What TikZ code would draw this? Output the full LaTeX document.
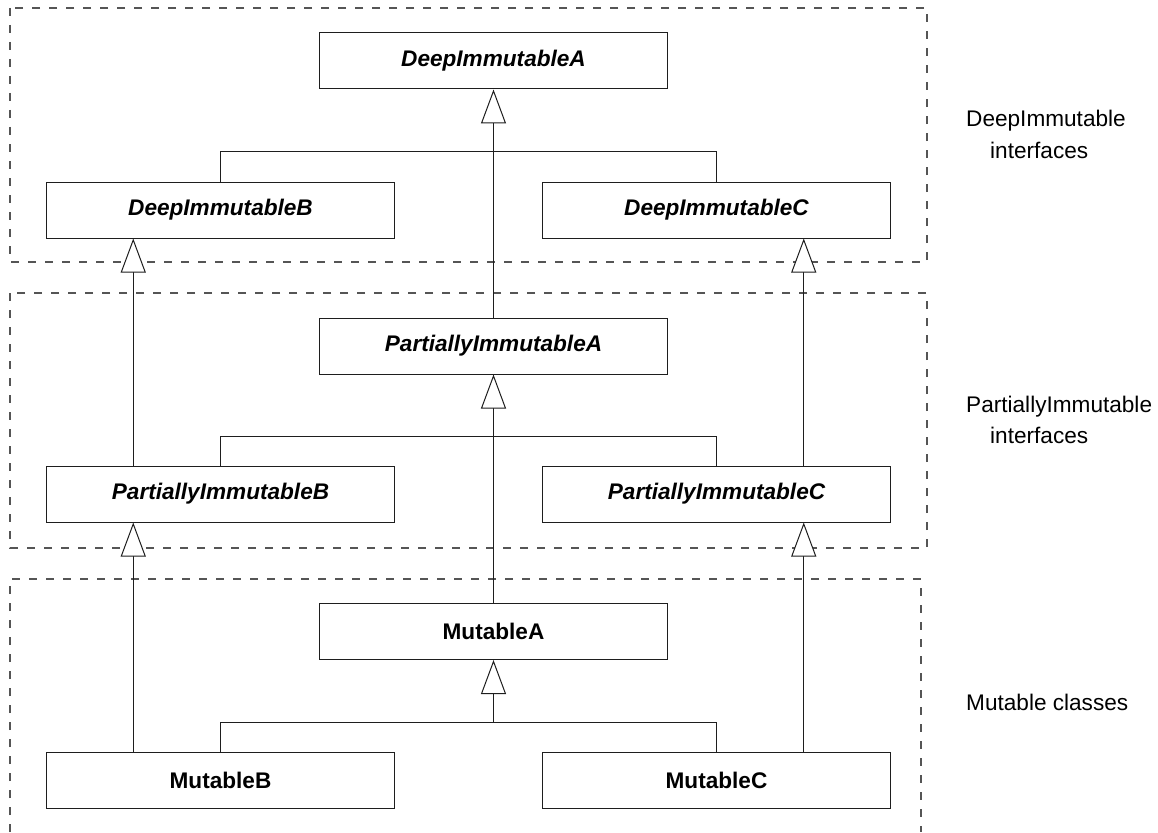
\documentclass[tikz,border=0pt]{standalone}
\usepackage{fontspec}
\setmainfont{Liberation Sans}
\usetikzlibrary{arrows.meta,calc}
\definecolor{dashgray}{RGB}{85,85,85}
\definecolor{linegray}{RGB}{30,30,30}
\begin{document}
\begin{tikzpicture}[x=1pt,y=-1pt,
  cls/.style={draw=linegray,line width=1pt,rectangle,minimum width=348pt,minimum height=56pt,inner sep=0pt,
    font=\fontsize{22.6}{26}\selectfont\bfseries},
  ifc/.style={cls,font=\fontsize{22.6}{26}\selectfont\bfseries\itshape},
  grp/.style={draw=dashgray,line width=1.2pt,dash pattern=on 8pt off 9pt},
  conn/.style={draw=linegray,line width=1pt},
  inh/.style={conn,-{Triangle[open,fill=white,length=34pt,width=25pt]}},
  side/.style={anchor=base west,inner sep=0pt,font=\fontsize{22.6}{26}\selectfont}]
\useasboundingbox (0,0) rectangle (1158,832);
% groups
\draw[grp] (10,8) rectangle (927,262);
\draw[grp] (10,293) rectangle (927,548);
\draw[grp] (10,832) -- (10,579) -- (921,579) -- (921,832);
% nodes
\node[ifc] (DIA) at (493.5,61) {DeepImmutableA};
\node[ifc] (DIB) at (220.5,210) {DeepImmutableB};
\node[ifc] (DIC) at (716.5,210) {DeepImmutableC};
\node[ifc] (PIA) at (493.5,346) {PartiallyImmutableA};
\node[ifc] (PIB) at (220.5,494) {PartiallyImmutableB};
\node[ifc] (PIC) at (716.5,494) {PartiallyImmutableC};
\node[cls] (MA) at (493.5,631.5) {MutableA};
\node[cls] (MB) at (220.5,780.5) {MutableB};
\node[cls] (MC) at (716.5,780.5) {MutableC};
% junctions
\coordinate (j1) at (493.5,151.5);
\coordinate (j2) at (493.5,436.5);
\coordinate (j3) at (493.5,722.5);
% connectors
\draw[inh] (PIA.north) -- (DIA.south);
\draw[conn] (DIB.north) |- (j1) -| (DIC.north);
\draw[inh] (MA.north) -- (PIA.south);
\draw[conn] (PIB.north) |- (j2) -| (PIC.north);
\draw[inh] (j3) -- (MA.south);
\draw[conn] (MB.north) |- (j3) -| (MC.north);
\draw[inh] ($(PIB.north west)!.25!(PIB.north east)$) -- ($(DIB.south west)!.25!(DIB.south east)$);
\draw[inh] ($(PIC.north west)!.75!(PIC.north east)$) -- ($(DIC.south west)!.75!(DIC.south east)$);
\draw[inh] ($(MB.north west)!.25!(MB.north east)$) -- ($(PIB.south west)!.25!(PIB.south east)$);
\draw[inh] ($(MC.north west)!.75!(MC.north east)$) -- ($(PIC.south west)!.75!(PIC.south east)$);
% side labels
\node[side] (l1a) at (966,127) {DeepImmutable};
\node[side] (l1b) at (990,158) {interfaces};
\node[side] (l2a) at (966,412) {PartiallyImmutable};
\node[side] (l2b) at (990,443) {interfaces};
\node[side] (l3) at (966,710) {Mutable classes};
\end{tikzpicture}
\end{document}
